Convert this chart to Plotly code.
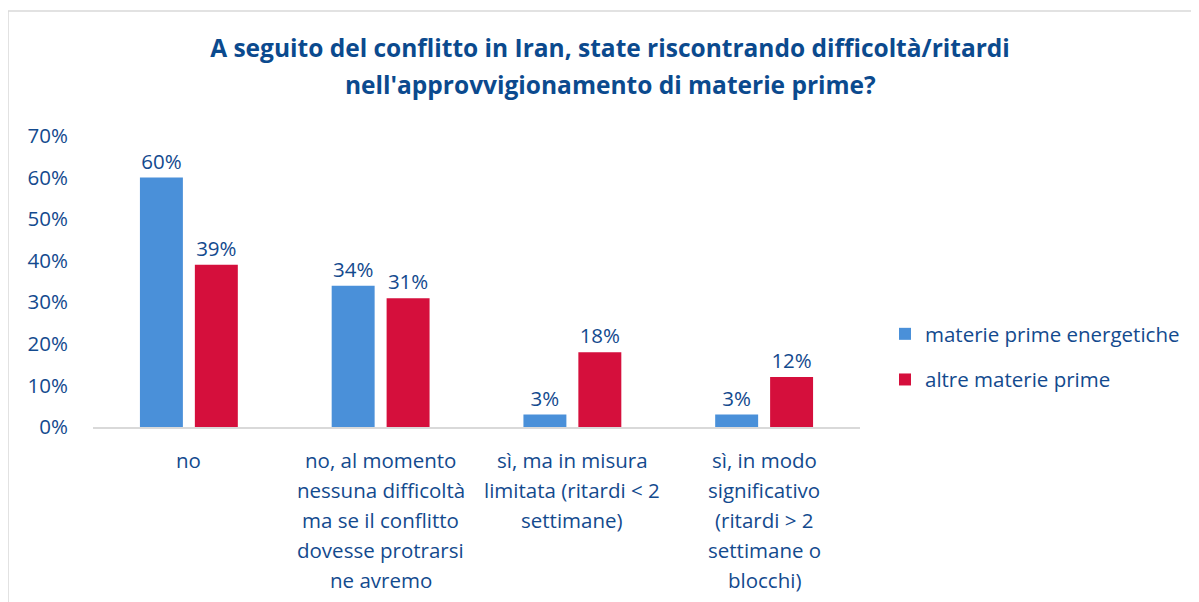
import plotly.graph_objects as go

categories = [
    "no",
    "no, al momento<br>nessuna difficoltà<br>ma se il conflitto<br>dovesse protrarsi<br>ne avremo",
    "sì, ma in misura<br>limitata (ritardi < 2<br>settimane)",
    "sì, in modo<br>significativo<br>(ritardi > 2<br>settimane o<br>blocchi)",
]
energetiche = [0.60, 0.34, 0.03, 0.03]
altre = [0.39, 0.31, 0.18, 0.12]
series_names = ["materie prime energetiche", "altre materie prime"]
title_lines = ["A seguito del conflitto in Iran, state riscontrando difficoltà/ritardi",
               "nell'approvvigionamento di materie prime?"]

TEXT = "#134a8e"
TITLE_COL = "#0b4a8e"
FONT = "Open Sans"
FS = 20.5
TFS = 24.5
W, H = 1199, 602
OFF = 8  # page body margin
L, R = 93 - OFF, W - (860 - OFF)
T, B = 136 - OFF, H - (427 - OFF)

fig = go.Figure()
for i, (name, vals, col) in enumerate([(series_names[0], energetiche, "#4a90d9"),
                                       (series_names[1], altre, "#d50f3c")]):
    fig.add_trace(go.Bar(
        x=categories, y=vals, name=name, marker_color=col,
        marker_line_width=0, legendgroup=f"g{i}",
        text=[f"{v:.0%}" for v in vals], textposition="outside",
        textfont=dict(size=FS, color=TEXT, family=FONT),
        cliponaxis=False,
    ))

pw = W - L - R
ph = H - T - B
def px(xp): return (xp - OFF - L) / pw
def py(yp): return (H - B - (yp - OFF)) / ph

annotations = []
for cat in categories:
    for j, line in enumerate(cat.split("<br>")):
        annotations.append(dict(
            x=cat, y=0, xref="x", yref="y", text=line, showarrow=False,
            xanchor="center", yanchor="middle", yshift=-(33 + 30 * j),
            font=dict(size=FS, color=TEXT, family=FONT),
        ))
annotations.append(dict(
    x=px(610), y=py(84), xref="paper", yref="paper", text=f"<b>{title_lines[1]}</b>",
    showarrow=False, xanchor="center", yanchor="middle",
    font=dict(size=TFS, color=TITLE_COL, family=FONT),
))

fig.update_layout(
    width=W, height=H,
    margin=dict(l=L, r=R, t=T, b=B),
    paper_bgcolor="white", plot_bgcolor="white",
    font=dict(family=FONT, color=TEXT, size=FS),
    title=dict(
        text=f"<b>{title_lines[0]}</b>",
        x=(610 - OFF) / W, xanchor="center", y=1 - 32 / H, yanchor="top",
        font=dict(size=TFS, color=TITLE_COL, family=FONT),
    ),
    barmode="group", bargap=0.427, bargroupgap=0.218,
    showlegend=True,
    legend=dict(x=px(885), y=py(314), xanchor="left", yanchor="top",
                font=dict(size=FS, color=TEXT, family=FONT),
                tracegroupgap=16, traceorder="grouped",
                bgcolor="rgba(0,0,0,0)"),
    annotations=annotations,
    shapes=[
        dict(type="line", xref="paper", yref="paper", x0=px(8), x1=px(8),
             y0=py(11), y1=py(620), line=dict(color="#d9d9d9", width=1.5)),
        dict(type="line", xref="paper", yref="paper", x0=px(8), x1=px(1220),
             y0=py(11), y1=py(11), line=dict(color="#d9d9d9", width=1.5)),
    ],
)
fig.update_yaxes(range=[0, 0.7], dtick=0.1, tickformat=".0%", showgrid=False,
                 zeroline=False, showline=False, ticks="",
                 tickfont=dict(size=FS, color=TEXT, family=FONT), ticklabelstandoff=24)
fig.update_xaxes(showline=True, linecolor="#d9d9d9", linewidth=1.5, ticks="",
                 showticklabels=False)

fig.write_html("out.html")
